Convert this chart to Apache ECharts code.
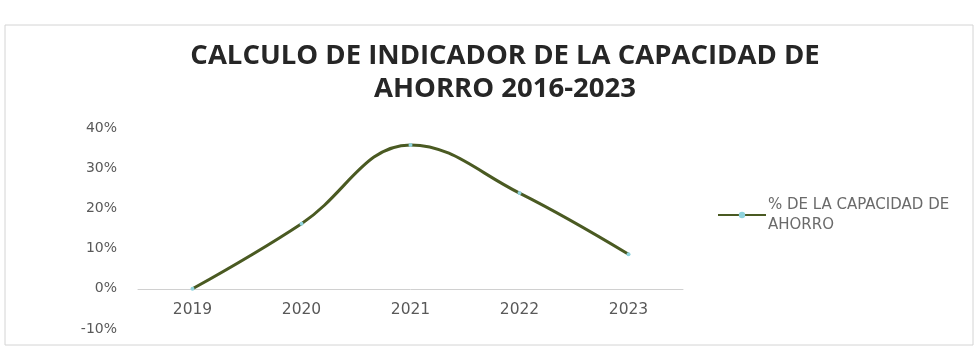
<!DOCTYPE html>
<html>
<head>
<meta charset="utf-8">
<script src="https://cdn.jsdelivr.net/npm/echarts@6/dist/echarts.min.js"></script>
<style>
html,body{margin:0;padding:0;background:#fff;}
#chart{width:980px;height:351px;}
</style>
</head>
<body>
<div id="chart"></div>
<script>
var years = ['2019', '2020', '2021', '2022', '2023'];
var capacidad = [0, 16.2, 35.8, 23.8, 8.6];
var serieName = '% DE LA CAPACIDAD DE\nAHORRO';

var myChart = echarts.init(document.getElementById('chart'));
var option = {
	backgroundColor: '#fff',
	textStyle: { fontFamily: '"DejaVu Sans", sans-serif' },
	title: {
		text: 'CALCULO DE INDICADOR DE LA CAPACIDAD DE\nAHORRO 2016-2023',
		left: 500,
		textAlign: 'center',
		top: 35,
		textStyle: {
			color: '#262626',
			fontSize: 27.5,
			fontWeight: 'bold',
			lineHeight: 33,
			fontFamily: '"Open Sans", sans-serif'
		}
	},
	graphic: [{
		type: 'rect',
		shape: { x: 5, y: 25, width: 968, height: 320 },
		style: { fill: 'none', stroke: '#d4d4d4', lineWidth: 1 },
		silent: true
	}],
	legend: {
		left: 712,
		top: 190,
		itemWidth: 48,
		itemHeight: 8,
		itemGap: 2,
		data: [serieName],
		textStyle: { color: '#6a6a6a', fontSize: 15, lineHeight: 20, fontFamily: '"DejaVu Sans", sans-serif', padding: [0, 0, 0, -3] }
	},
	grid: { left: 138, right: 297, top: 128, bottom: 22, outerBoundsMode: 'none' },
	xAxis: {
		type: 'category',
		data: years,
		axisTick: { show: false },
		axisLine: { onZero: true, lineStyle: { color: '#d0d0d0', width: 1 } },
		axisLabel: { color: '#595959', fontSize: 15.5, margin: -27 }
	},
	yAxis: {
		type: 'value',
		min: -10,
		max: 40,
		interval: 10,
		splitLine: { show: false },
		axisLine: { show: false },
		axisTick: { show: false },
		axisLabel: { color: '#595959', fontSize: 14, margin: 21, formatter: '{value}%' }
	},
	series: [{
		name: serieName,
		type: 'line',
		data: capacidad,
		smooth: 0.4,
		symbol: 'circle',
		symbolSize: 4,
		itemStyle: { color: '#8fd3dc' },
		lineStyle: { color: '#4a5a22', width: 3 }
	}]
};
myChart.setOption(option, true);
</script>
</body>
</html>
